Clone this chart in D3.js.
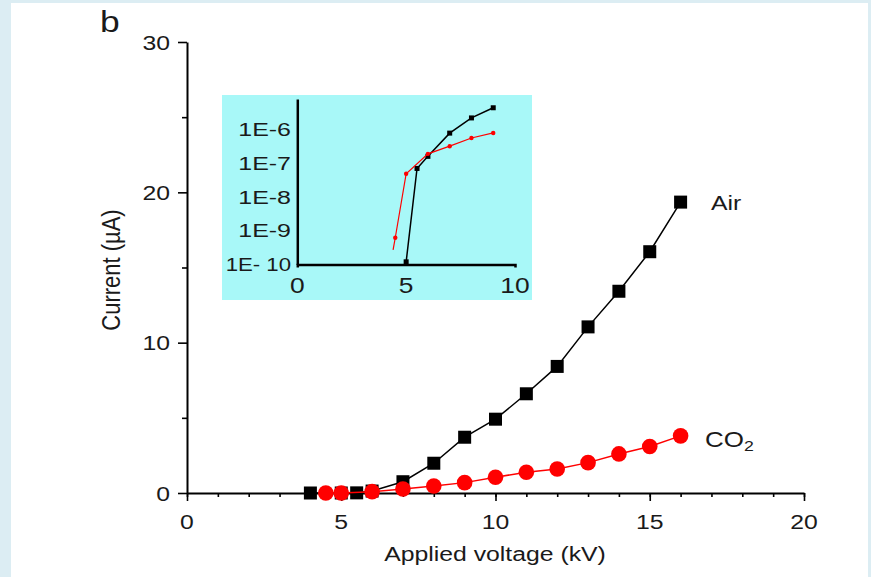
<!DOCTYPE html>
<html>
<head>
<meta charset="utf-8">
<script src="https://cdn.jsdelivr.net/npm/d3@7"></script>
<style>
  html, body { margin: 0; padding: 0; background: #dcedf3; }
  svg { display: block; }
  text { font-family: "Liberation Sans", Arial, sans-serif; fill: #1a1a1a; }
</style>
</head>
<body>
<svg id="chart" width="871" height="577"></svg>
<script>
// Main panel: discharge current (µA) against applied voltage (kV)
const airVoltage = [4, 5, 5.5, 6, 7, 8, 9, 10, 11, 12, 13, 14, 15, 16];
const airCurrent = [0, 0, 0.01, 0.13, 0.75, 1.98, 3.71, 4.91, 6.6, 8.42, 11.05, 13.42, 16.05, 19.35];
const co2Voltage = [4.5, 5, 6, 7, 8, 9, 10, 11, 12, 13, 14, 15, 16];
const co2Current = [0, 0, 0.09, 0.27, 0.47, 0.69, 1.05, 1.38, 1.6, 2.02, 2.6, 3.09, 3.8];

// Inset: onset region on a logarithmic current axis (A)
const insetAirVoltage = [5, 5.5, 6, 7, 8, 9];
const insetAirCurrent = [1.2e-10, 7e-8, 1.6e-7, 7.8e-7, 2.2e-6, 4.4e-6];
const insetCo2Voltage = [4.4, 4.5, 5, 6, 7, 8, 9];
const insetCo2Current = [2.7e-10, 6.2e-10, 4.9e-8, 1.9e-7, 3.2e-7, 5.6e-7, 7.9e-7];

// Tick values and labels
const xTicks = [0, 5, 10, 15, 20];
const xMinorTicks = d3.range(0, 21);
const yTicks = [0, 10, 20, 30];
const yMinorTicks = [5, 15, 25];
const insetXTicks = [0, 5, 10];
const insetYTicks = [1e-10, 1e-9, 1e-8, 1e-7, 1e-6];
const insetYLabels = ["1E- 10", "1E-9", "1E-8", "1E-7", "1E-6"];

const svg = d3.select("#chart");
const SX = 1.18; // horizontal stretch used by the figure's lettering

svg.append("rect").attr("x", 0).attr("y", 0).attr("width", 871).attr("height", 577).attr("fill", "#dcedf3");
svg.append("rect").attr("x", 11).attr("y", 3).attr("width", 857).attr("height", 574).attr("fill", "#ffffff");

function label(g, x, y, str, size, anchor, sx = SX) {
  return g.append("text")
    .attr("transform", `translate(${x},${y}) scale(${sx},1)`)
    .attr("text-anchor", anchor)
    .attr("font-size", size)
    .text(str);
}

// ---------- main axes ----------
const x = d3.scaleLinear().domain([0, 20]).range([187, 804]);
const y = d3.scaleLinear().domain([0, 30]).range([493, 42]);

function styleAxis(g, domainWidth) {
  g.selectAll(".domain").attr("stroke", "#000").attr("stroke-width", domainWidth);
  g.selectAll(".tick line").attr("stroke", "#000").attr("stroke-width", 1.6);
}

const gx = svg.append("g").attr("transform", `translate(0,${y(0)})`);
gx.call(d3.axisBottom(x).tickValues(xMinorTicks).tickSize(4).tickSizeOuter(0).tickFormat(""));
gx.append("g").call(d3.axisBottom(x).tickValues(xTicks).tickSize(8).tickSizeOuter(0).tickFormat(""))
  .call(g => g.select(".domain").remove());
styleAxis(gx, 2);

const gy = svg.append("g").attr("transform", `translate(${x(0)},0)`);
gy.call(d3.axisLeft(y).tickValues(yMinorTicks).tickSize(5).tickSizeOuter(0).tickFormat(""));
gy.append("g").call(d3.axisLeft(y).tickValues(yTicks).tickSize(9).tickSizeOuter(0).tickFormat(""))
  .call(g => g.select(".domain").remove());
styleAxis(gy, 2);

const labels = svg.append("g");
xTicks.forEach(t => label(labels, x(t), 529, String(t), 21, "middle"));
yTicks.forEach(t => label(labels, 170, y(t) + 7.5, String(t), 21, "end"));

label(labels, 495, 561, "Applied voltage (kV)", 21, "middle");
labels.append("text")
  .attr("transform", "translate(119.5,270) rotate(-90) scale(1,1.15)")
  .attr("text-anchor", "middle")
  .attr("font-size", 22)
  .text("Current (µA)");

label(labels, 100, 32, "b", 30, "start");

// ---------- main series ----------
const zip = (a, b) => a.map((v, i) => [v, b[i]]);
const airData = zip(airVoltage, airCurrent);
const co2Data = zip(co2Voltage, co2Current);

const line = d3.line().x(d => x(d[0])).y(d => y(d[1]));

svg.append("path").datum(airData).attr("d", line)
  .attr("fill", "none").attr("stroke", "#000").attr("stroke-width", 1.5);
svg.append("g").selectAll("rect").data(airData).join("rect")
  .attr("x", d => x(d[0]) - 6.5).attr("y", d => y(d[1]) - 6.5)
  .attr("width", 13).attr("height", 13).attr("fill", "#000");

svg.append("path").datum(co2Data).attr("d", line)
  .attr("fill", "none").attr("stroke", "#ff0000").attr("stroke-width", 1.5);
svg.append("g").selectAll("circle").data(co2Data).join("circle")
  .attr("cx", d => x(d[0])).attr("cy", d => y(d[1])).attr("r", 7.8).attr("fill", "#ff0000");

label(labels, 711, 210, "Air", 21, "start");
const co2Label = label(labels, 705, 447, "CO", 22, "start");
co2Label.append("tspan").attr("font-size", 15).attr("dy", 4).text("2");

// ---------- inset ----------
const inset = svg.append("g");
inset.append("rect").attr("x", 222).attr("y", 95).attr("width", 310).attr("height", 205).attr("fill", "#a8f8f8");

const ix = d3.scaleLinear().domain([0, 10]).range([297.3, 515]);
const iy = d3.scaleLog().domain([1e-10, 8e-6]).range([264.5, 99]);

const igx = inset.append("g").attr("transform", `translate(0,${iy(1e-10)})`);
igx.call(d3.axisBottom(ix).tickValues([]).tickSizeOuter(3));
igx.select(".domain").attr("stroke", "#000").attr("stroke-width", 2.5);

const igy = inset.append("g").attr("transform", `translate(${ix(0)},0)`);
igy.call(d3.axisLeft(iy).tickValues([]).tickSizeOuter(0));
igy.select(".domain").attr("stroke", "#000").attr("stroke-width", 2.5);

insetXTicks.forEach(t => label(inset, ix(t), 293, String(t), 22, "middle", 1.2));
insetYTicks.forEach((t, i) => {
  const txt = insetYLabels[i];
  label(inset, 291, iy(t) + 6.6, txt, 18.5, "end", txt.length > 4 ? 1.2 : 1.35);
});

const iline = d3.line().x(d => ix(d[0])).y(d => iy(d[1]));
const insetAir = zip(insetAirVoltage, insetAirCurrent);
const insetCo2 = zip(insetCo2Voltage, insetCo2Current);

inset.append("path").datum(insetAir).attr("d", iline)
  .attr("fill", "none").attr("stroke", "#000").attr("stroke-width", 1.5);
inset.append("g").selectAll("rect").data(insetAir).join("rect")
  .attr("x", d => ix(d[0]) - 2.5).attr("y", d => iy(d[1]) - 2.5)
  .attr("width", 5).attr("height", 5).attr("fill", "#000");

inset.append("path").datum(insetCo2).attr("d", iline)
  .attr("fill", "none").attr("stroke", "#ff0000").attr("stroke-width", 1.2);
inset.append("g").selectAll("circle").data(insetCo2.slice(1)).join("circle")
  .attr("cx", d => ix(d[0])).attr("cy", d => iy(d[1])).attr("r", 2.2).attr("fill", "#ff0000");
</script>
</body>
</html>
